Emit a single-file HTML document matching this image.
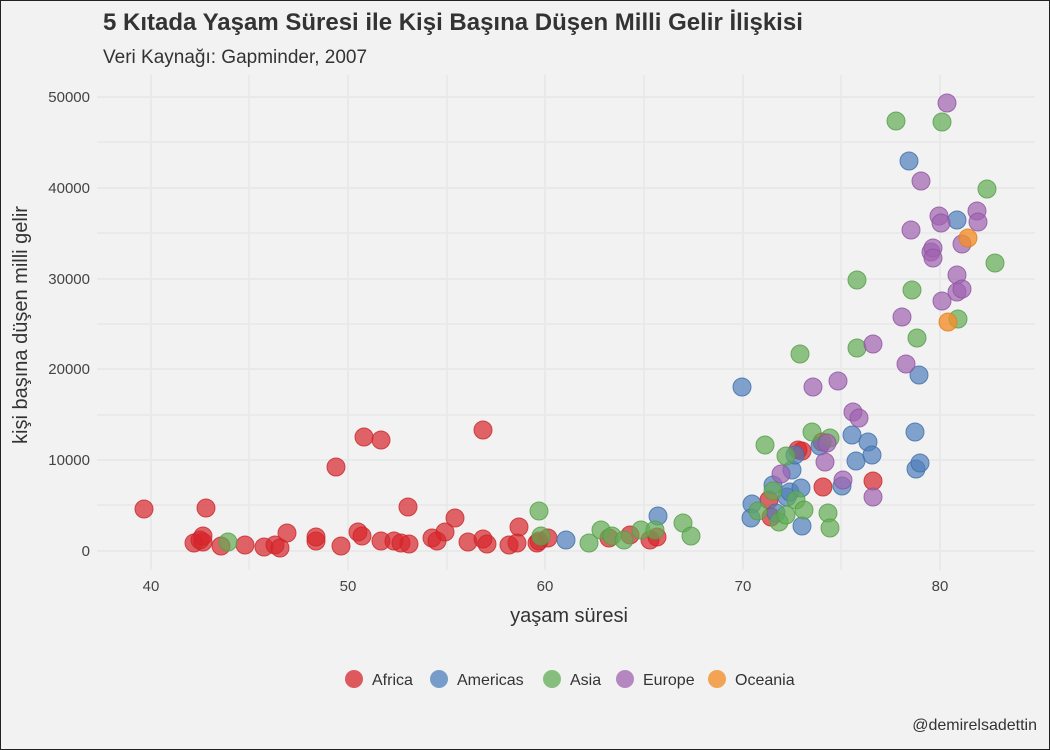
<!DOCTYPE html>
<html><head><meta charset="utf-8"><style>
body{margin:0;background:#f2f2f2}
svg{display:block;font-family:"Liberation Sans",sans-serif}
</style></head><body>
<svg width="1050" height="750" viewBox="0 0 1050 750" xmlns="http://www.w3.org/2000/svg">
<rect x="0.5" y="0.5" width="1049" height="749" fill="#f2f2f2" stroke="#222"/>
<g stroke="#e6e6e6" stroke-width="1.2">
<line x1="249" y1="75" x2="249" y2="570"/><line x1="447" y1="75" x2="447" y2="570"/><line x1="644" y1="75" x2="644" y2="570"/><line x1="841" y1="75" x2="841" y2="570"/>
<line x1="97" y1="505" x2="1035" y2="505"/><line x1="97" y1="415" x2="1035" y2="415"/><line x1="97" y1="324" x2="1035" y2="324"/><line x1="97" y1="233" x2="1035" y2="233"/><line x1="97" y1="142" x2="1035" y2="142"/>
</g>
<g stroke="#e9e9e9" stroke-width="2">
<line x1="151" y1="75" x2="151" y2="570"/><line x1="348" y1="75" x2="348" y2="570"/><line x1="545" y1="75" x2="545" y2="570"/><line x1="743" y1="75" x2="743" y2="570"/><line x1="940" y1="75" x2="940" y2="570"/>
<line x1="97" y1="551" x2="1035" y2="551"/><line x1="97" y1="460" x2="1035" y2="460"/><line x1="97" y1="369" x2="1035" y2="369"/><line x1="97" y1="279" x2="1035" y2="279"/><line x1="97" y1="188" x2="1035" y2="188"/><line x1="97" y1="97" x2="1035" y2="97"/>
</g>
<text x="103" y="30" font-size="24" font-weight="bold" fill="#333">5 Kıtada Yaşam Süresi ile Kişi Başına Düşen Milli Gelir İlişkisi</text>
<text x="103" y="63" font-size="19" fill="#333">Veri Kaynağı: Gapminder, 2007</text>
<g font-size="15" fill="#444" text-anchor="end">
<text x="90" y="556">0</text><text x="90" y="465">10000</text><text x="90" y="374">20000</text><text x="90" y="284">30000</text><text x="90" y="193">40000</text><text x="90" y="102">50000</text>
</g>
<g font-size="15" fill="#444" text-anchor="middle">
<text x="151" y="591">40</text><text x="348" y="591">50</text><text x="545" y="591">60</text><text x="743" y="591">70</text><text x="940" y="591">80</text>
</g>
<text x="569" y="622" font-size="20" fill="#333" text-anchor="middle">yaşam süresi</text>
<text transform="translate(27,325) rotate(-90)" font-size="20" fill="#333" text-anchor="middle">kişi başına düşen milli gelir</text>
<g fill="#d7262b" fill-opacity="0.7" stroke="#c9272b" stroke-opacity="0.8">
<circle cx="144" cy="509" r="9"/><circle cx="194" cy="543" r="9"/><circle cx="200" cy="540" r="9"/><circle cx="203" cy="542" r="9"/><circle cx="206" cy="508" r="9"/><circle cx="203" cy="536" r="9"/><circle cx="221" cy="546" r="9"/><circle cx="245" cy="545" r="9"/><circle cx="264" cy="547" r="9"/><circle cx="275" cy="545" r="9"/><circle cx="280" cy="548" r="9"/><circle cx="287" cy="533" r="9"/><circle cx="316" cy="541" r="9"/><circle cx="316" cy="537" r="9"/><circle cx="341" cy="546" r="9"/><circle cx="336" cy="467" r="9"/><circle cx="358" cy="532" r="9"/><circle cx="362" cy="536" r="9"/><circle cx="364" cy="437" r="9"/><circle cx="381" cy="440" r="9"/><circle cx="381" cy="541" r="9"/><circle cx="394" cy="541" r="9"/><circle cx="401" cy="543" r="9"/><circle cx="408" cy="507" r="9"/><circle cx="409" cy="544" r="9"/><circle cx="432" cy="538" r="9"/><circle cx="437" cy="541" r="9"/><circle cx="445" cy="532" r="9"/><circle cx="455" cy="518" r="9"/><circle cx="468" cy="542" r="9"/><circle cx="483" cy="430" r="9"/><circle cx="483" cy="539" r="9"/><circle cx="487" cy="544" r="9"/><circle cx="509" cy="545" r="9"/><circle cx="517" cy="543" r="9"/><circle cx="519" cy="527" r="9"/><circle cx="537" cy="543" r="9"/><circle cx="539" cy="541" r="9"/><circle cx="548" cy="538" r="9"/><circle cx="609" cy="538" r="9"/><circle cx="630" cy="535" r="9"/><circle cx="650" cy="540" r="9"/><circle cx="657" cy="537" r="9"/><circle cx="769" cy="500" r="9"/><circle cx="771" cy="517" r="9"/><circle cx="798" cy="450" r="9"/><circle cx="802" cy="451" r="9"/><circle cx="822" cy="442" r="9"/><circle cx="823" cy="487" r="9"/><circle cx="873" cy="481" r="9"/>
</g>
<g fill="#4f7fbb" fill-opacity="0.7" stroke="#3e6ea8" stroke-opacity="0.8">
<circle cx="658" cy="516" r="9"/><circle cx="566" cy="540" r="9"/><circle cx="742" cy="387" r="9"/><circle cx="752" cy="504" r="9"/><circle cx="751" cy="518" r="9"/><circle cx="773" cy="485" r="9"/><circle cx="776" cy="513" r="9"/><circle cx="787" cy="497" r="9"/><circle cx="790" cy="492" r="9"/><circle cx="792" cy="470" r="9"/><circle cx="795" cy="455" r="9"/><circle cx="801" cy="488" r="9"/><circle cx="802" cy="526" r="9"/><circle cx="820" cy="446" r="9"/><circle cx="842" cy="486" r="9"/><circle cx="852" cy="435" r="9"/><circle cx="856" cy="461" r="9"/><circle cx="868" cy="442" r="9"/><circle cx="872" cy="455" r="9"/><circle cx="909" cy="161" r="9"/><circle cx="916" cy="469" r="9"/><circle cx="915" cy="432" r="9"/><circle cx="919" cy="375" r="9"/><circle cx="920" cy="463" r="9"/><circle cx="957" cy="220" r="9"/>
</g>
<g fill="#62ad55" fill-opacity="0.7" stroke="#529d45" stroke-opacity="0.8">
<circle cx="228" cy="542" r="9"/><circle cx="539" cy="511" r="9"/><circle cx="541" cy="536" r="9"/><circle cx="589" cy="543" r="9"/><circle cx="601" cy="530" r="9"/><circle cx="612" cy="536" r="9"/><circle cx="624" cy="540" r="9"/><circle cx="641" cy="530" r="9"/><circle cx="655" cy="530" r="9"/><circle cx="683" cy="523" r="9"/><circle cx="691" cy="536" r="9"/><circle cx="758" cy="511" r="9"/><circle cx="765" cy="445" r="9"/><circle cx="773" cy="491" r="9"/><circle cx="779" cy="522" r="9"/><circle cx="786" cy="456" r="9"/><circle cx="786" cy="515" r="9"/><circle cx="796" cy="500" r="9"/><circle cx="800" cy="354" r="9"/><circle cx="804" cy="510" r="9"/><circle cx="812" cy="432" r="9"/><circle cx="828" cy="513" r="9"/><circle cx="830" cy="438" r="9"/><circle cx="830" cy="528" r="9"/><circle cx="857" cy="280" r="9"/><circle cx="857" cy="348" r="9"/><circle cx="896" cy="121" r="9"/><circle cx="912" cy="290" r="9"/><circle cx="917" cy="338" r="9"/><circle cx="942" cy="122" r="9"/><circle cx="958" cy="319" r="9"/><circle cx="987" cy="189" r="9"/><circle cx="995" cy="263" r="9"/>
</g>
<g fill="#a063b0" fill-opacity="0.7" stroke="#8e52a0" stroke-opacity="0.8">
<circle cx="781" cy="474" r="9"/><circle cx="813" cy="387" r="9"/><circle cx="825" cy="462" r="9"/><circle cx="827" cy="443" r="9"/><circle cx="838" cy="381" r="9"/><circle cx="843" cy="480" r="9"/><circle cx="853" cy="412" r="9"/><circle cx="859" cy="418" r="9"/><circle cx="873" cy="344" r="9"/><circle cx="873" cy="497" r="9"/><circle cx="902" cy="317" r="9"/><circle cx="906" cy="364" r="9"/><circle cx="911" cy="230" r="9"/><circle cx="921" cy="181" r="9"/><circle cx="931" cy="252" r="9"/><circle cx="933" cy="248" r="9"/><circle cx="933" cy="258" r="9"/><circle cx="939" cy="216" r="9"/><circle cx="941" cy="223" r="9"/><circle cx="942" cy="301" r="9"/><circle cx="947" cy="103" r="9"/><circle cx="957" cy="275" r="9"/><circle cx="957" cy="292" r="9"/><circle cx="962" cy="244" r="9"/><circle cx="962" cy="289" r="9"/><circle cx="977" cy="211" r="9"/><circle cx="978" cy="222" r="9"/>
</g>
<g fill="#f28f2c" fill-opacity="0.8" stroke="#e07e1c" stroke-opacity="0.8">
<circle cx="948" cy="322" r="9"/><circle cx="968" cy="238" r="9"/>
</g>
<g font-size="16" fill="#333">
<circle cx="354" cy="679" r="9" fill="#d7262b" fill-opacity="0.75"/><text x="372" y="685">Africa</text>
<circle cx="439" cy="679" r="9" fill="#4f7fbb" fill-opacity="0.75"/><text x="457" y="685">Americas</text>
<circle cx="552" cy="679" r="9" fill="#62ad55" fill-opacity="0.75"/><text x="570" y="685">Asia</text>
<circle cx="625" cy="679" r="9" fill="#a063b0" fill-opacity="0.75"/><text x="643" y="685">Europe</text>
<circle cx="717" cy="679" r="9" fill="#f28f2c" fill-opacity="0.8"/><text x="735" y="685">Oceania</text>
</g>
<text x="1037" y="730" font-size="16" fill="#333" text-anchor="end">@demirelsadettin</text>
</svg>
</body></html>
